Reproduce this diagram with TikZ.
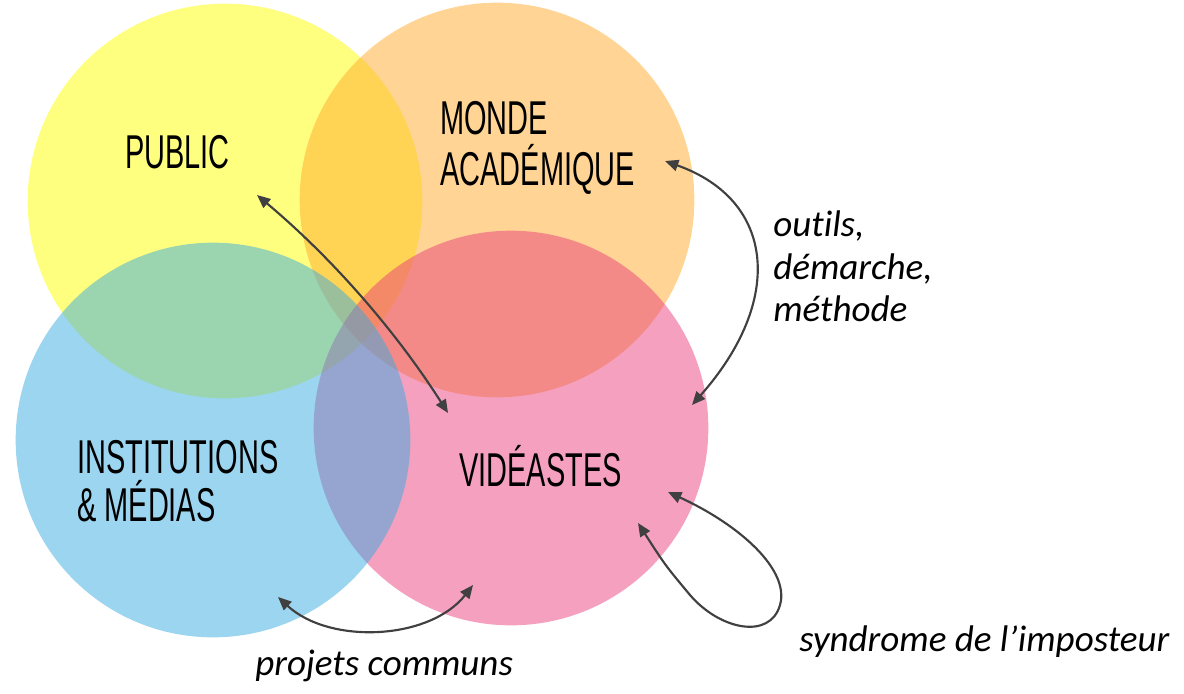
\documentclass[tikz,border=0pt]{standalone}
\usepackage{fontspec}
\usetikzlibrary{arrows.meta}
\newfontfamily\capsfont[FakeStretch=0.61]{Liberation Sans}
\newfontfamily\labfont[Ligatures=CommonOff]{Carlito}
\definecolor{yellowc}{RGB}{255,255,0}
\definecolor{orangec}{RGB}{255,169,41}
\definecolor{pinkc}{RGB}{233,65,125}
\definecolor{bluec}{RGB}{55,171,225}
\definecolor{arrowgray}{RGB}{64,64,64}
\tikzset{
  bubble/.style={circle,fill opacity=0.5,inner sep=0pt,minimum size=296pt},
  bigtext/.style={inner sep=0pt,anchor=base west,align=left,text=black,font=\capsfont\fontsize{35.6}{38}\selectfont},
  labtext/.style={inner sep=0pt,anchor=base west,align=left,text=black,font=\labfont\itshape\fontsize{27.8}{31.9}\selectfont},
  link/.style={draw=arrowgray,line width=1.6pt,{Stealth[inset=0pt,length=10pt,width=8.5pt]}-{Stealth[inset=0pt,length=10pt,width=8.5pt]}}
}
\begin{document}
\begin{tikzpicture}[x=0.75pt,y=-0.75pt]
\useasboundingbox (0,0) rectangle (1184,693);
\node[bubble,fill=yellowc] (cy) at (225,201) {};
\node[bubble,fill=orangec] (co) at (497,200) {};
\node[bubble,fill=pinkc] (cp) at (511,428) {};
\node[bubble,fill=bluec] (cb) at (213,440) {};

\node[bigtext] (public) at (125,168.3) {PUBLIC};
\node[bigtext] (monde) at (440,185) {MONDE\\ACADÉMIQUE};
\node[bigtext,font=\capsfont\fontsize{35.6}{36.3}\selectfont] (inst) at (77,521.7) {INSTITUTIONS\\\& MÉDIAS};
\node[bigtext] (vid) at (459,486.7) {VIDÉASTES};

\node[labtext] (outils) at (773,321.7) {outils,\\démarche,\\méthode};
\node[labtext] (syn) at (799,651) {syndrome de l’imposteur};
\node[labtext] (proj) at (255,675) {projets communs};

\coordinate (a1) at (257,195);
\coordinate (a2) at (448,413);
\coordinate (b1) at (665,161);
\coordinate (b2) at (692,405);
\coordinate (c1) at (668,492);
\coordinate (c2) at (638,523);
\coordinate (d1) at (278,597);
\coordinate (d2) at (473,585);

\draw[link] (a1) .. controls (332,258) and (395,330) .. (a2);
\draw[link] (b1) .. controls (775,200) and (785,300) .. (b2);
\draw[link] (c1) .. controls (740,525) and (790,570) .. (780,605)
   .. controls (770,640) and (720,630) .. (690,595)
   .. controls (665,565) .. (c2);
\draw[link] (d1) .. controls (330,645) and (430,640) .. (d2);
\end{tikzpicture}
\end{document}
